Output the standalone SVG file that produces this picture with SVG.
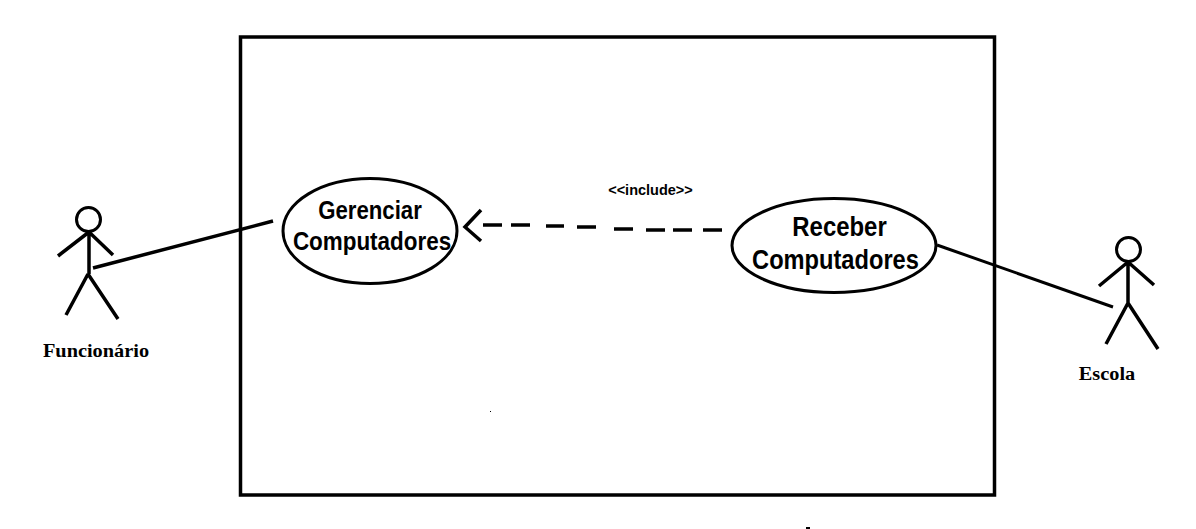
<svg xmlns="http://www.w3.org/2000/svg" width="1196" height="529" viewBox="0 0 1196 529">
<style>
.bg{fill:#fff}
.ln{fill:none;stroke:#000;stroke-width:3}
.ln2{fill:none;stroke:#000;stroke-width:3.5}
.uc{fill:#fff;stroke:#000;stroke-width:3}
.t{font-family:"Liberation Sans",Arial,sans-serif;font-weight:700;fill:#000;text-anchor:middle}
.a{font-family:"Liberation Serif","Times New Roman",serif;font-weight:700;font-size:18px;fill:#000;text-anchor:middle}
</style>
<rect class="bg" width="1196" height="529"/>
<rect id="system-boundary" x="240.500" y="37" width="754" height="458" fill="none" stroke="#000" stroke-width="3.500"/>
<g id="uc-gerenciar">
<ellipse class="uc" cx="370" cy="231" rx="87" ry="52.500"/>
<text class="t" font-size="25.500" transform="translate(370 219) scale(.87 1)">Gerenciar</text>
<text class="t" font-size="25.500" transform="translate(372 250) scale(.88 1)">Computadores</text>
</g>
<g id="uc-receber">
<ellipse class="uc" cx="834" cy="245.500" rx="102" ry="47"/>
<text class="t" font-size="28.500" transform="translate(839.500 236) scale(.84 1)">Receber</text>
<text class="t" font-size="28.500" transform="translate(835.500 268.500) scale(.83 1)">Computadores</text>
</g>
<g id="actor-funcionario">
<circle class="ln" cx="88.500" cy="219.500" r="12"/>
<path class="ln2" d="M89 232V274M89 232L58 256M89 232L113 255M88 274L66 315M88 274L118 319"/>
<text class="a" transform="translate(96 357) scale(1.13 1)">Funcionário</text>
</g>
<g id="actor-escola">
<circle class="ln" cx="1128.500" cy="249.500" r="12"/>
<path class="ln2" d="M1128 262V303M1128 262L1099 286M1128 262L1154 285M1128 303L1106 344M1128 303L1158 349"/>
<text class="a" transform="translate(1107 380) scale(1.13 1)">Escola</text>
</g>
<g id="connectors">
<path class="ln2" d="M93 268L273 221"/>
<path class="ln" d="M937 245L1113 307"/>
<path class="ln2" d="M483 225H502M511 225H530M546 226H564M577 227H596M614 229H633M646 230H665M673 230H692M703 230H722"/>
<path class="ln2" d="M481 210L465 227L481 241"/>
<text class="t" x="650.500" y="195" font-size="14.500">&lt;&lt;include&gt;&gt;</text>
</g>
<rect x="490" y="411" width="1" height="1" fill="#000"/>
<rect x="806" y="527" width="4" height="2" fill="#000"/>
</svg>
